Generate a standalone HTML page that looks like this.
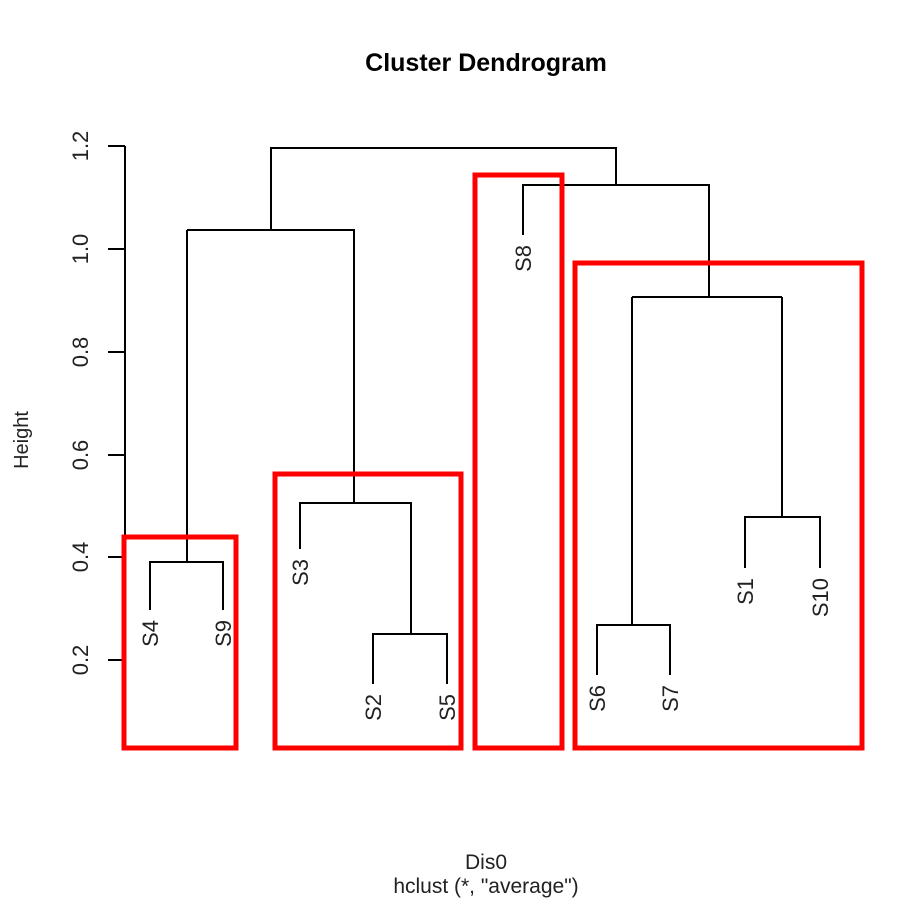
<!DOCTYPE html><html><head><style>body{margin:0;background:#fff}</style></head><body>
<svg width="912" height="912" xmlns="http://www.w3.org/2000/svg" font-family="Liberation Sans, sans-serif">
<rect width="912" height="912" fill="#fff"/>
<text x="486" y="71" text-anchor="middle" font-size="25" font-weight="bold">Cluster Dendrogram</text>
<g stroke="#000" stroke-width="2" fill="none">
<path d="M125,146V660"/>
<path d="M108,146H125M108,249H125M108,352H125M108,455H125M108,557H125M108,660H125"/>
<path d="M150,610V562H223V610M187,562V230M187,230H354V503M300,549V503H411V634M373,684V634H447V684"/>
<path d="M271,230V148H616V185M523,235V185H709V297M632,297H782M632,297V625M597,675V625H670V675M782,297V517M745,568V517H820V568"/>
</g>
<g font-size="22" fill="#222" text-anchor="middle">
<text transform="translate(88,146) rotate(-90)">1.2</text>
<text transform="translate(88,249) rotate(-90)">1.0</text>
<text transform="translate(88,352) rotate(-90)">0.8</text>
<text transform="translate(88,455) rotate(-90)">0.6</text>
<text transform="translate(88,557) rotate(-90)">0.4</text>
<text transform="translate(88,660) rotate(-90)">0.2</text>
<text transform="translate(28,440) rotate(-90)" font-size="20">Height</text>
</g>
<g font-size="22" fill="#222" text-anchor="end">
<text transform="translate(158,620) rotate(-90)">S4</text>
<text transform="translate(231,620) rotate(-90)">S9</text>
<text transform="translate(308,559) rotate(-90)">S3</text>
<text transform="translate(381,694) rotate(-90)">S2</text>
<text transform="translate(455,694) rotate(-90)">S5</text>
<text transform="translate(531,245) rotate(-90)">S8</text>
<text transform="translate(605,685) rotate(-90)">S6</text>
<text transform="translate(678,685) rotate(-90)">S7</text>
<text transform="translate(753,578) rotate(-90)">S1</text>
<text transform="translate(828,578) rotate(-90)">S10</text>
</g>
<g stroke="#f00" stroke-width="5" fill="none">
<rect x="124" y="537" width="112" height="211"/>
<rect x="275" y="474" width="186" height="274"/>
<rect x="475" y="175" width="87" height="573"/>
<rect x="575" y="263" width="287" height="485"/>
</g>
<text x="486" y="869" text-anchor="middle" font-size="21" fill="#222">Dis0</text>
<text x="486" y="893" text-anchor="middle" font-size="21" fill="#222">hclust (*, "average")</text>
</svg>
</body></html>
